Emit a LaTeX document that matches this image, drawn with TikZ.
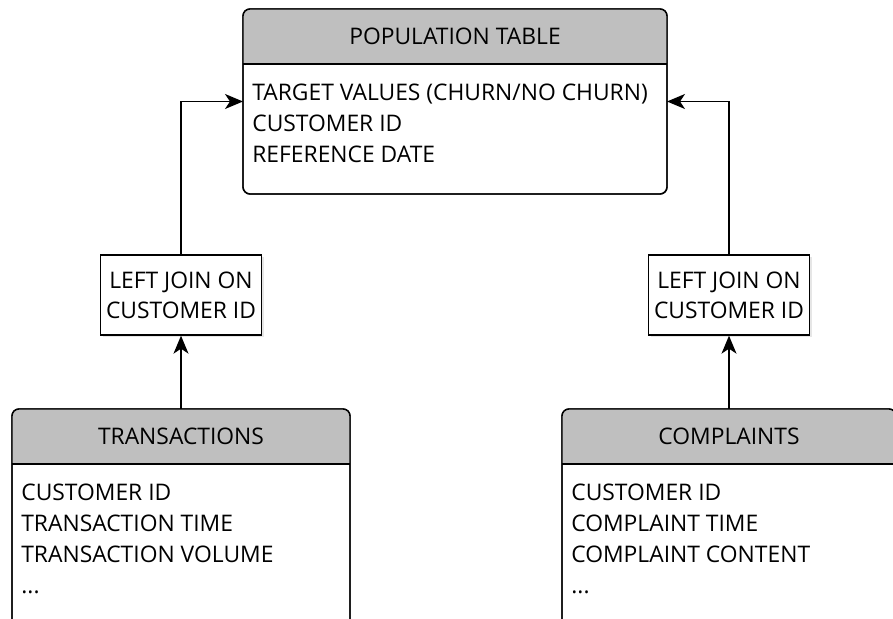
\documentclass[tikz,border=0pt]{standalone}
\usepackage{fontspec}
\setmainfont{Open Sans}
\usetikzlibrary{arrows.meta,shadows}

\begin{document}
\begin{tikzpicture}[
    tablebody/.style={draw, fill=white, rounded corners=4pt, line width=0.8pt, inner sep=0pt, outer sep=0pt},
    headfill/.style={fill=black!25},
    headtext/.style={inner sep=0pt, font=\fontsize{13}{17.5}\selectfont},
    rowtext/.style={anchor=north west, align=left, inner sep=0pt, font=\fontsize{13}{17.5}\selectfont},
    joinbox/.style={draw, fill=white, line width=0.8pt, minimum width=3.22cm, minimum height=1.6cm, align=center, inner sep=0pt, font=\fontsize{13}{17}\selectfont, drop shadow={opacity=0.2, shadow xshift=0.05cm, shadow yshift=-0.05cm}},
    link/.style={line width=0.7pt, -{Stealth[length=0.36cm, width=0.3cm, inset=0.1cm]}}
]
    \useasboundingbox (0,0) rectangle (17.86,12.38);
    \clip (0,0) rectangle (17.86,12.38);

    % population table
    \node[tablebody, minimum width=8.48cm, minimum height=3.7cm] (pop) at (9.1,10.35) {};
    \begin{scope}
        \clip[rounded corners=4pt] (pop.south west) rectangle (pop.north east);
        \fill[headfill] (pop.north west) rectangle ([yshift=-1.1cm]pop.north east);
    \end{scope}
    \draw[line width=0.8pt, rounded corners=4pt] (pop.south west) rectangle (pop.north east);
    \draw[line width=0.8pt] ([yshift=-1.1cm]pop.north west) -- ([yshift=-1.1cm]pop.north east);
    \node[headtext] (poptitle) at ([yshift=-0.55cm]pop.north) {POPULATION TABLE};
    \node[rowtext] (poprows) at ([xshift=0.18cm, yshift=-1.5cm]pop.north west)
        {TARGET VALUES (CHURN/NO CHURN)\\CUSTOMER ID\\REFERENCE DATE};

    % transactions table
    \node[tablebody, minimum width=6.76cm, minimum height=4.6cm] (trans) at (3.62,1.9) {};
    \begin{scope}
        \clip[rounded corners=4pt] (trans.south west) rectangle (trans.north east);
        \fill[headfill] (trans.north west) rectangle ([yshift=-1.1cm]trans.north east);
    \end{scope}
    \draw[line width=0.8pt, rounded corners=4pt] (trans.south west) rectangle (trans.north east);
    \draw[line width=0.8pt] ([yshift=-1.1cm]trans.north west) -- ([yshift=-1.1cm]trans.north east);
    \node[headtext] (transtitle) at ([yshift=-0.55cm]trans.north) {TRANSACTIONS};
    \node[rowtext] (transrows) at ([xshift=0.18cm, yshift=-1.5cm]trans.north west)
        {CUSTOMER ID\\TRANSACTION TIME\\TRANSACTION VOLUME\\...};

    % complaints table
    \node[tablebody, minimum width=6.68cm, minimum height=4.6cm] (comp) at (14.58,1.9) {};
    \begin{scope}
        \clip[rounded corners=4pt] (comp.south west) rectangle (comp.north east);
        \fill[headfill] (comp.north west) rectangle ([yshift=-1.1cm]comp.north east);
    \end{scope}
    \draw[line width=0.8pt, rounded corners=4pt] (comp.south west) rectangle (comp.north east);
    \draw[line width=0.8pt] ([yshift=-1.1cm]comp.north west) -- ([yshift=-1.1cm]comp.north east);
    \node[headtext] (comptitle) at ([yshift=-0.55cm]comp.north) {COMPLAINTS};
    \node[rowtext] (comprows) at ([xshift=0.18cm, yshift=-1.5cm]comp.north west)
        {CUSTOMER ID\\COMPLAINT TIME\\COMPLAINT CONTENT\\...};

    % joins
    \node[joinbox] (tjoin) at (3.62,6.48) {LEFT JOIN ON\\CUSTOMER ID};
    \node[joinbox] (cjoin) at (14.58,6.48) {LEFT JOIN ON\\CUSTOMER ID};

    \draw[link] (trans) -- (tjoin);
    \draw[link] (comp) -- (cjoin);
    \draw[link] (tjoin) |- (pop.west);
    \draw[link] (cjoin) |- (pop.east);
\end{tikzpicture}
\end{document}
